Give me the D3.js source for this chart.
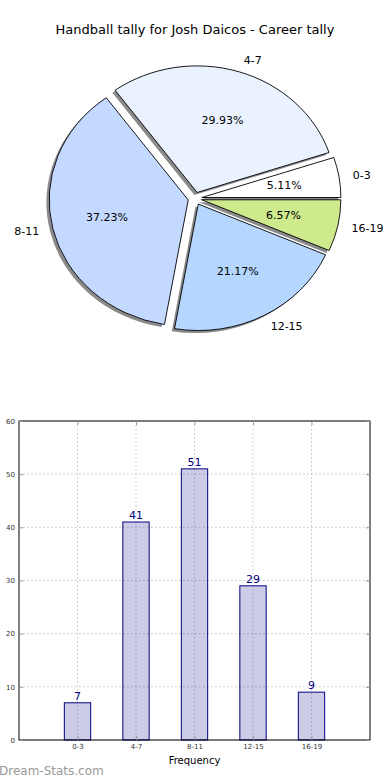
<!DOCTYPE html>
<html>
<head>
<meta charset="utf-8">
<script src="https://cdn.jsdelivr.net/npm/d3@7"></script>
<style>
  body { margin: 0; background: #fff; }
  svg { display: block; font-family: "DejaVu Sans", sans-serif; }
</style>
</head>
<body>
<div id="chart"></div>
<script>
// data
const categories = ["0-3", "4-7", "8-11", "12-15", "16-19"];
const counts = [7, 41, 51, 29, 9];
const sliceColors = ["#ffffff", "#eaf1ff", "#c4d9ff", "#b4d6ff", "#cfea8c"];
const yTicks = [0, 10, 20, 30, 40, 50, 60];

const W = 390, H = 780;
const svg = d3.select("#chart").append("svg")
    .attr("width", W)
    .attr("height", H);

// Title
svg.append("text")
    .attr("x", 195)
    .attr("y", 34)
    .attr("text-anchor", "middle")
    .style("font-size", "13px")
    .text("Handball tally for Josh Daicos - Career tally");

// ---- Pie ----
const cx = 195, cy = 198.5, rx = 139, ry = 126.5;
const explode = 0.05;
const total = d3.sum(counts);
const ends = Array.from(d3.cumsum(counts));
const slices = counts.map((c, i) => {
    const t0 = (ends[i] - c) / total * 2 * Math.PI;
    const t1 = ends[i] / total * 2 * Math.PI;
    return { i, c, t0, t1, tm: (t0 + t1) / 2 };
});

// arc in unit radius, scaled later to ellipse; math angle -> d3 angle
const arc = d3.arc()
    .innerRadius(0)
    .outerRadius(1)
    .startAngle(d => Math.PI / 2 - d.t1)
    .endAngle(d => Math.PI / 2 - d.t0);

const pie = svg.append("g");

function offset(d) {
    return [explode * rx * Math.cos(d.tm), -explode * ry * Math.sin(d.tm)];
}

// shadows first (under all wedges)
pie.selectAll(".shadow")
    .data(slices)
    .join("path")
    .attr("class", "shadow")
    .attr("d", arc)
    .attr("transform", d => {
        const [dx, dy] = offset(d);
        return `translate(${cx + dx - 0.02 * rx},${cy + dy + 0.02 * ry}) scale(${rx},${ry})`;
    })
    .attr("fill", "#8a8a8a");

pie.selectAll(".wedge")
    .data(slices)
    .join("path")
    .attr("class", "wedge")
    .attr("d", arc)
    .attr("transform", d => {
        const [dx, dy] = offset(d);
        return `translate(${cx + dx},${cy + dy}) scale(${rx},${ry})`;
    })
    .attr("fill", d => sliceColors[d.i])
    .attr("stroke", "#000")
    .attr("stroke-width", 0.9)
    .attr("vector-effect", "non-scaling-stroke");

// category labels
pie.selectAll(".plabel")
    .data(slices)
    .join("text")
    .attr("class", "plabel")
    .attr("x", d => cx + offset(d)[0] + 1.1 * rx * Math.cos(d.tm))
    .attr("y", d => cy + offset(d)[1] - 1.1 * ry * Math.sin(d.tm))
    .attr("dy", "0.35em")
    .attr("text-anchor", d => Math.cos(d.tm) > 0 ? "start" : "end")
    .style("font-size", "11px")
    .text(d => categories[d.i]);

// percentages
pie.selectAll(".pct")
    .data(slices)
    .join("text")
    .attr("class", "pct")
    .attr("x", d => cx + offset(d)[0] + 0.6 * rx * Math.cos(d.tm))
    .attr("y", d => cy + offset(d)[1] - 0.6 * ry * Math.sin(d.tm))
    .attr("dy", "0.35em")
    .attr("text-anchor", "middle")
    .style("font-size", "11px")
    .text(d => (d.c / total * 100).toFixed(2) + "%");

// ---- Bar chart ----
const bx0 = 19, bx1 = 370, by0 = 421, by1 = 740;
const x = d3.scaleLinear().domain([0, categories.length + 1]).range([bx0, bx1]);
const y = d3.scaleLinear().domain([0, 60]).range([by1, by0]);
const barW = 0.45;

const bar = svg.append("g");

// grid
bar.selectAll(".ygrid")
    .data(yTicks)
    .join("line")
    .attr("x1", bx0).attr("x2", bx1)
    .attr("y1", d => y(d)).attr("y2", d => y(d))
    .attr("stroke", "#c4c4c4")
    .attr("stroke-width", 1)
    .attr("stroke-dasharray", "1.5,2.5");

bar.selectAll(".xgrid")
    .data(categories)
    .join("line")
    .attr("x1", (d, i) => x(i + 1)).attr("x2", (d, i) => x(i + 1))
    .attr("y1", by0).attr("y2", by1)
    .attr("stroke", "#c4c4c4")
    .attr("stroke-width", 1)
    .attr("stroke-dasharray", "1.5,2.5");

// bars
bar.selectAll(".bar")
    .data(counts)
    .join("rect")
    .attr("class", "bar")
    .attr("x", (d, i) => x(i + 1 - barW / 2))
    .attr("width", x(barW) - x(0))
    .attr("y", d => y(d))
    .attr("height", d => y(0) - y(d))
    .attr("fill", "rgba(0,0,128,0.2)")
    .attr("stroke", "#000080")
    .attr("stroke-width", 1);

// value labels
bar.selectAll(".val")
    .data(counts)
    .join("text")
    .attr("x", (d, i) => x(i + 1))
    .attr("y", d => y(d) - 3)
    .attr("text-anchor", "middle")
    .attr("fill", "#000080")
    .style("font-size", "11px")
    .text(d => d);

// axes frame
bar.append("rect")
    .attr("x", bx0).attr("y", by0)
    .attr("width", bx1 - bx0).attr("height", by1 - by0)
    .attr("fill", "none")
    .attr("stroke", "#000")
    .attr("stroke-width", 1);

// ticks
const yAxis = d3.axisLeft(y).tickValues(yTicks).tickSize(-4).tickPadding(4);
const yAxisR = d3.axisRight(y).tickValues(yTicks).tickSize(-4).tickFormat("");
const xAxis = d3.axisBottom(x).tickValues(d3.range(1, categories.length + 1))
    .tickFormat(d => categories[d - 1]).tickSize(-4).tickPadding(4);
const xAxisT = d3.axisTop(x).tickValues(d3.range(1, categories.length + 1))
    .tickSize(-4).tickFormat("");

function styleAxis(g) {
    g.select(".domain").remove();
    g.selectAll(".tick line").attr("stroke", "#999");
    g.selectAll(".tick text")
        .attr("fill", "#333")
        .style("font-family", "DejaVu Sans, sans-serif")
        .style("font-size", "7px");
}

bar.append("g").attr("transform", `translate(${bx0},0)`).call(yAxis).call(styleAxis);
bar.append("g").attr("transform", `translate(${bx1},0)`).call(yAxisR).call(styleAxis);
bar.append("g").attr("transform", `translate(0,${by1})`).call(xAxis).call(styleAxis);
bar.append("g").attr("transform", `translate(0,${by0})`).call(xAxisT).call(styleAxis);

// x label
svg.append("text")
    .attr("x", (bx0 + bx1) / 2)
    .attr("y", 764)
    .attr("text-anchor", "middle")
    .style("font-size", "10px")
    .text("Frequency");

// watermark
svg.append("text")
    .attr("x", -1)
    .attr("y", 775)
    .attr("fill", "#999")
    .style("font-size", "12px")
    .text("Dream-Stats.com");
</script>
</body>
</html>
